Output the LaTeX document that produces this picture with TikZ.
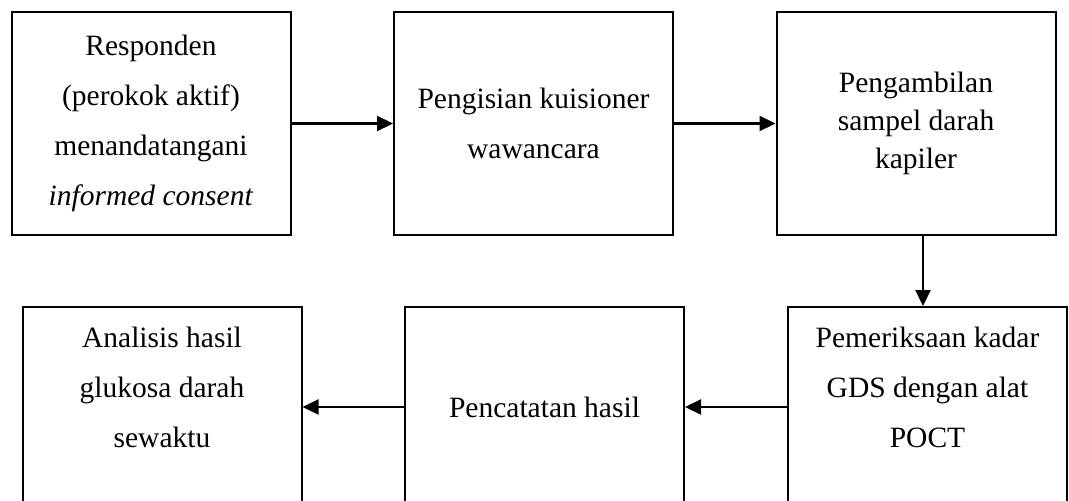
\documentclass[tikz,border=0pt]{standalone}
\usepackage{fontspec}
\setmainfont{Liberation Serif}
\usetikzlibrary{arrows.meta}

\tikzset{
  box/.style={draw,line width=2pt,align=center,inner sep=0pt,
    minimum width=279pt,font=\fontsize{29.5}{50}\selectfont},
  tight/.style={font=\fontsize{29.5}{38}\selectfont},
  flow/.style={-{Triangle[length=16pt,width=15pt]},line width=2.2pt},
}

\begin{document}
\begin{tikzpicture}[x=1pt,y=-1pt]
   \useasboundingbox (0,0) rectangle (1069,501);
   \node (resp) at (151,123.5) [box,minimum height=223pt] {Responden\\(perokok aktif)\\menandatangani\\\textit{informed consent}};
   \node (kuis) at (533.5,123.5) [box,minimum height=223pt] {Pengisian kuisioner\\wawancara};
   \node (sampel) at (916,123.5) [box,tight,minimum height=223pt] {Pengambilan\\sampel darah\\kapiler};
   \node (periksa) at (927.5,407) [box,minimum height=200pt] {Pemeriksaan kadar\\GDS dengan alat\\POCT\\[-10pt]\mbox{}};
   \node (catat) at (544.5,407) [box,minimum height=200pt] {Pencatatan hasil};
   \node (analisis) at (162,407) [box,minimum height=200pt] {Analisis hasil\\glukosa darah\\sewaktu\\[-10pt]\mbox{}};
   \coordinate (drop) at ([xshift=7pt]sampel.south);
   \draw[flow] (resp) -- (kuis);
   \draw[flow] (kuis) -- (sampel);
   \draw[flow] (drop) -- (drop |- periksa.north);
   \draw[flow] (periksa) -- (catat);
   \draw[flow] (catat) -- (analisis);
\end{tikzpicture}
\end{document}
